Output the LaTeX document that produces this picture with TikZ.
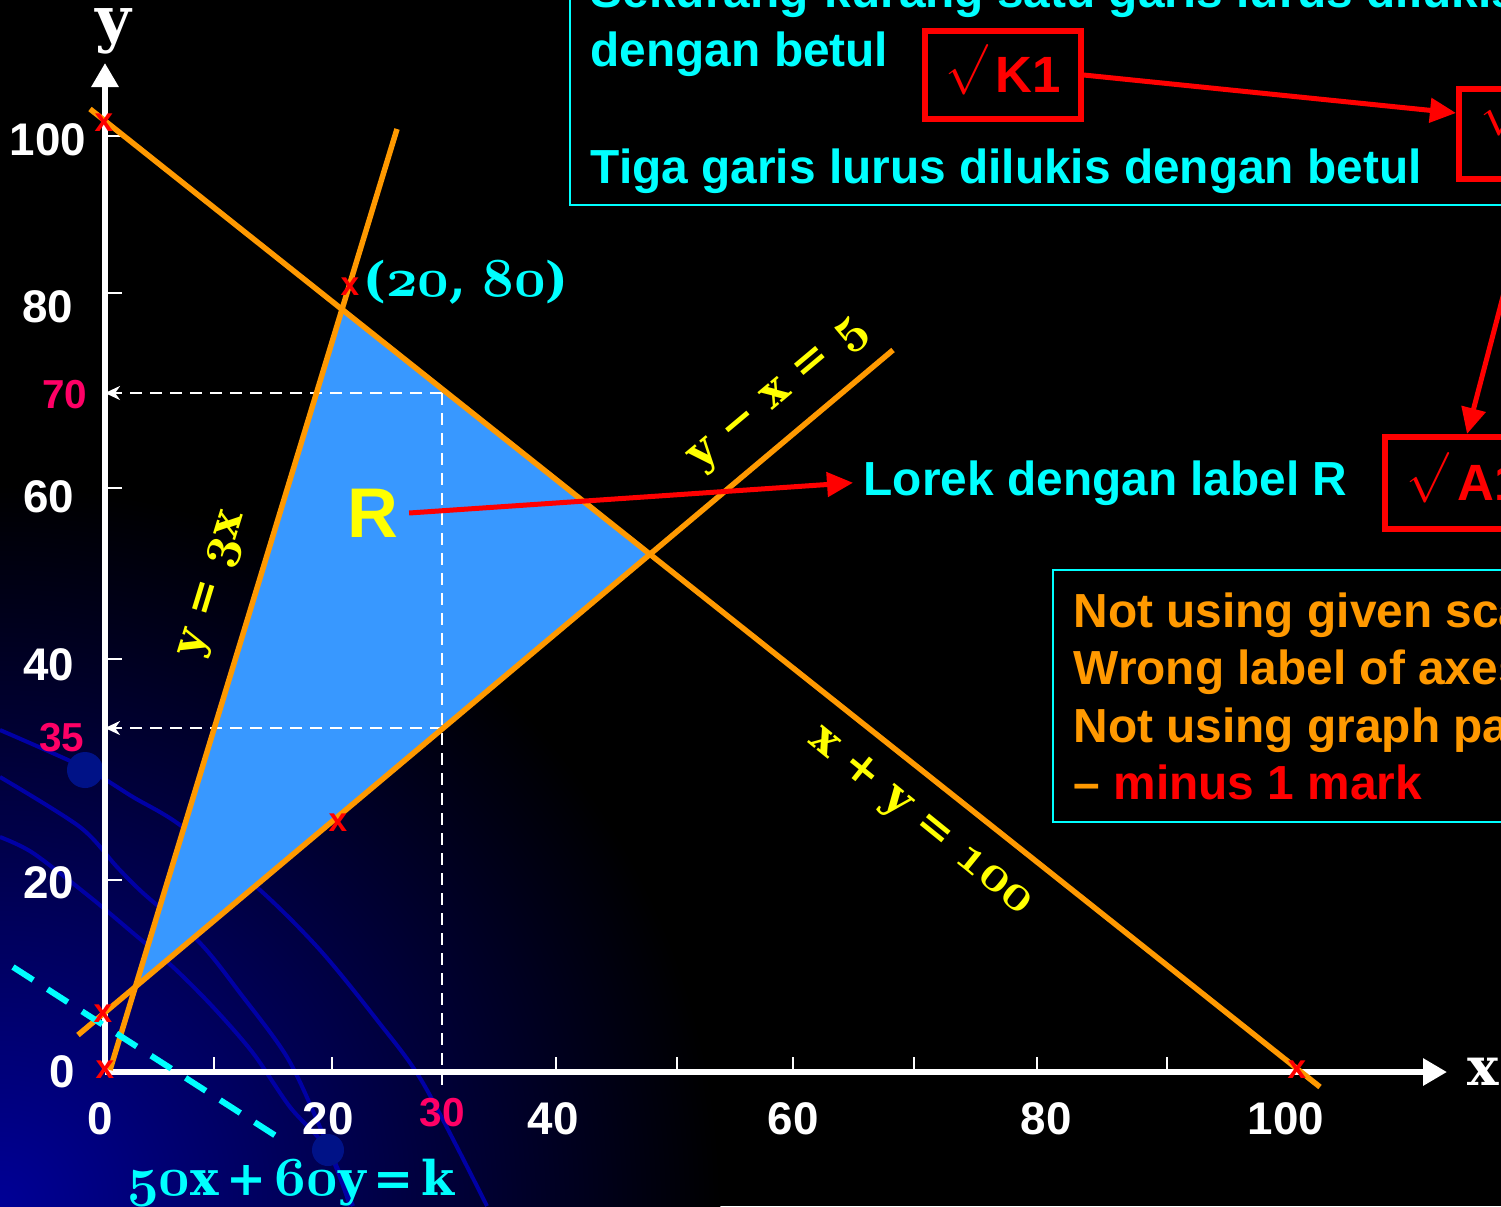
\documentclass[tikz,border=0pt]{standalone}
\usepackage{fontspec}
\usepackage{graphicx}
\setsansfont{Liberation Sans}
\newfontfamily\eqfont{DejaVu Serif}
\usetikzlibrary{arrows.meta,positioning,calc}
\definecolor{bgnavy}{RGB}{0,0,150}
\definecolor{swirl}{RGB}{0,0,165}
\definecolor{ballblue}{RGB}{0,18,135}
\definecolor{lineorange}{RGB}{255,153,0}
\definecolor{regionblue}{RGB}{56,152,255}
\definecolor{cyantxt}{RGB}{0,255,255}
\definecolor{hotpink}{RGB}{255,0,102}
\definecolor{markred}{RGB}{255,0,0}
\definecolor{lblyellow}{RGB}{255,255,0}
\DeclareFontFamily{OML}{osbold}{\skewchar\font=127}
\DeclareFontShape{OML}{osbold}{b}{it}{<->cmmib10}{}
\newcommand{\fsz}[1]{\fontsize{#1}{#1}\selectfont}
\newcommand{\osn}[1]{\scalebox{1.15}{\usefont{OML}{osbold}{b}{it}#1}}
\newcommand{\chk}{\smash{\raisebox{0.2em}{$\surd$}}}
\tikzset{
  axis/.style={white,line width=0.065cm,-{Triangle[length=0.24cm,width=0.26cm]}},
  tickmark/.style={white,line width=0.02cm},
  guide/.style={white,line width=0.025cm,dash pattern=on 0.12cm off 0.08cm},
  guidearrow/.style={guide,-{Stealth[length=0.15cm,width=0.14cm]}},
  bound/.style={lineorange,line width=0.055cm},
  isoline/.style={cyantxt,line width=0.06cm,dash pattern=on 0.24cm off 0.17cm},
  swirlline/.style={swirl,line width=0.04cm},
  numlbl/.style={white,font=\sffamily\bfseries\fsz{13}},
  pinklbl/.style={hotpink,font=\sffamily\bfseries\fsz{11.5}},
  eqlbl/.style={lblyellow,font=\eqfont\bfseries\fsz{12.6}},
  xmark/.style={markred,font=\sffamily\bfseries\fsz{9.5},inner sep=0pt},
  markbox/.style={draw=markred,line width=0.06cm,text=markred,font=\sffamily\bfseries\fsz{14.5},inner sep=0pt},
  redarrow/.style={markred,line width=0.05cm,-{Triangle[length=0.26cm,width=0.24cm]}},
  frame/.style={cyantxt,line width=0.025cm},
  crit/.style={cyantxt,font=\sffamily\bfseries\fsz{13.6},anchor=base west,inner sep=0pt},
}
\begin{document}
\begin{tikzpicture}[x=0.01cm,y=-0.01cm]
  \useasboundingbox (0,0) rectangle (1501,1206);
  \clip (0,0) rectangle (1501,1206);
  \fill[black] (0,0) rectangle (1501,1206);
  % backdrop
  \shade[inner color=bgnavy,outer color=black] (0,1206) circle[radius=7.2cm];
  \draw[swirlline] plot[smooth] coordinates {(0,730) (85,768) (133,797) (180,825) (260,890) (320,950) (377,1020) (423,1083) (487,1206)};
  \draw[swirlline] plot[smooth] coordinates {(0,777) (80,827) (117,867) (143,893) (200,943) (240,993) (287,1057) (320,1127) (353,1206)};
  \draw[swirlline] plot[smooth] coordinates {(0,837) (33,853) (90,897) (133,933) (173,967) (213,1007) (253,1053) (290,1107) (328,1150) (350,1206)};
  \fill[ballblue] (85,770) circle[radius=0.18cm];
  \fill[ballblue] (328,1150) circle[radius=0.16cm];

  % constraint lines and region
  \coordinate (sumA) at (90,109);  \coordinate (sumB) at (1320,1087);
  \coordinate (triA) at (110,1070); \coordinate (triB) at (397,129);
  \coordinate (difA) at (78,1035);  \coordinate (difB) at (893,350);
  \coordinate (vtop) at (intersection of sumA--sumB and triA--triB);
  \coordinate (vright) at (intersection of sumA--sumB and difA--difB);
  \coordinate (vlow) at (intersection of triA--triB and difA--difB);
  \fill[regionblue] (vtop) -- (vright) -- (vlow) -- cycle;

  % axes
  \coordinate (O) at (105,1072);
  \coordinate (xend) at (1447,1072);
  \coordinate (yend) at (105,63);
  \coordinate (g70) at (442,393);
  \coordinate (g35) at (442,728);
  \coordinate (gfoot) at (442,1085);
  \draw[guide] (g70) -- (gfoot);
  \draw[guidearrow] (g70) -- (O |- g70);
  \draw[guidearrow] (g35) -- (O |- g35);
  \draw[axis] (O) -- (xend);
  \draw[axis] (O) -- (yend);
  \foreach \tx in {214,332,556,677,793,914,1037,1167}
    \draw[tickmark] (\tx,1072) -- ++(0,-15);
  \foreach \ty in {136,293,488,659,880}
    \draw[tickmark] (105,\ty) -- ++(17,0);
  \foreach \v/\px in {0/100,20/328,40/553,60/793,80/1046,100/1286}
    \node[numlbl] (xl\v) at (\px,1119) {\v};
  \foreach \v/\px/\py in {0/62/1072,20/49/883,40/49/665,60/49/497,80/48/307,100/48/140}
    \node[numlbl] (yl\v) at (\px,\py) {\v};
  \node[pinklbl] (lbl70) at (65,395) {70};
  \node[pinklbl] (lbl35) at (62,738) {35};
  \node[pinklbl] (lbl30) at (442,1113) {30};
  \node[white,font=\eqfont\bfseries\fsz{17.5}] (ylab) at (113,31) {y};
  \node[white,font=\eqfont\bfseries\fsz{15}] (xlab) at (1483,1072) {x};

  \draw[bound] (sumA) -- (sumB);
  \draw[bound] (triA) -- (triB);
  \draw[bound] (difA) -- (difB);
  \node[eqlbl,rotate=73] (eqtri) at (215,585) {y = \osn{3}x};
  \node[eqlbl,rotate=40] (eqdif) at (780,396) {y \textminus{} x = \osn{5}};
  \node[eqlbl,rotate=-39] (eqsum) at (920,822) {x + y = \osn{100}};
  \node[cyantxt,font=\eqfont\bfseries\fsz{13.6}] (corner) at (466,282) {(\osn{20}, \osn{80})};

  % objective line
  \coordinate (kA) at (13,967);
  \coordinate (kB) at (287,1143);
  \draw[isoline] (kA) -- (kB);
  \node[cyantxt,font=\eqfont\bfseries\fsz{13.6}] (objfn) at (291,1183) {\osn{50}x\,+\,\osn{60}y\,=\,k};

  \foreach \px/\py [count=\i] in {104/123,350/287,338/823,103/1014,105/1070,1297/1070}
    \node[xmark] (cross\i) at (\px,\py) {x};

  % region label
  \node[lblyellow,font=\sffamily\bfseries\fsz{20},inner sep=0.1cm] (regR) at (373,513) {R};
  \node[cyantxt,font=\sffamily\bfseries\fsz{13.6},anchor=base west,inner sep=0.1cm] (lorek) at (853,495) {Lorek dengan label R};
  \draw[redarrow] (regR.east) -- (lorek.west);

  % marking scheme
  \draw[frame] (570,-10) rectangle (1520,205);
  \node[crit] (crit1) at (590,8) {Sekurang-kurang satu garis lurus dilukis};
  \node[crit] (crit2) at (590,66) {dengan betul};
  \node[crit] (crit3) at (590,183) {Tiga garis lurus dilukis dengan betul};
  \node[markbox,minimum width=1.55cm,minimum height=0.88cm] (k1) at (1003,75) {\chk\,K1};
  \node[markbox,minimum width=1.48cm,minimum height=0.9cm,text width=1.06cm,align=left] (n1) at (1533,134) {\chk};
  \node[markbox,minimum width=1.64cm,minimum height=0.92cm,text width=1.2cm,align=left] (a1) at (1467,483) {\chk\,A1};
  \draw[redarrow] (k1.east) -- ([yshift=0.21cm]n1.west);
  \draw[redarrow] (n1.south) -- (a1.north);

  \draw[frame] (1053,570) rectangle (1520,822);
  \node[anchor=north west,inner sep=0pt,align=left,text=lineorange,
    font=\sffamily\bfseries\fontsize{13.6}{16.3}\selectfont] (notes) at (1073,592)
    {Not using given scale\\Wrong label of axes\\Not using graph paper\\– {\color{markred}minus 1 mark}};
\end{tikzpicture}
\end{document}
